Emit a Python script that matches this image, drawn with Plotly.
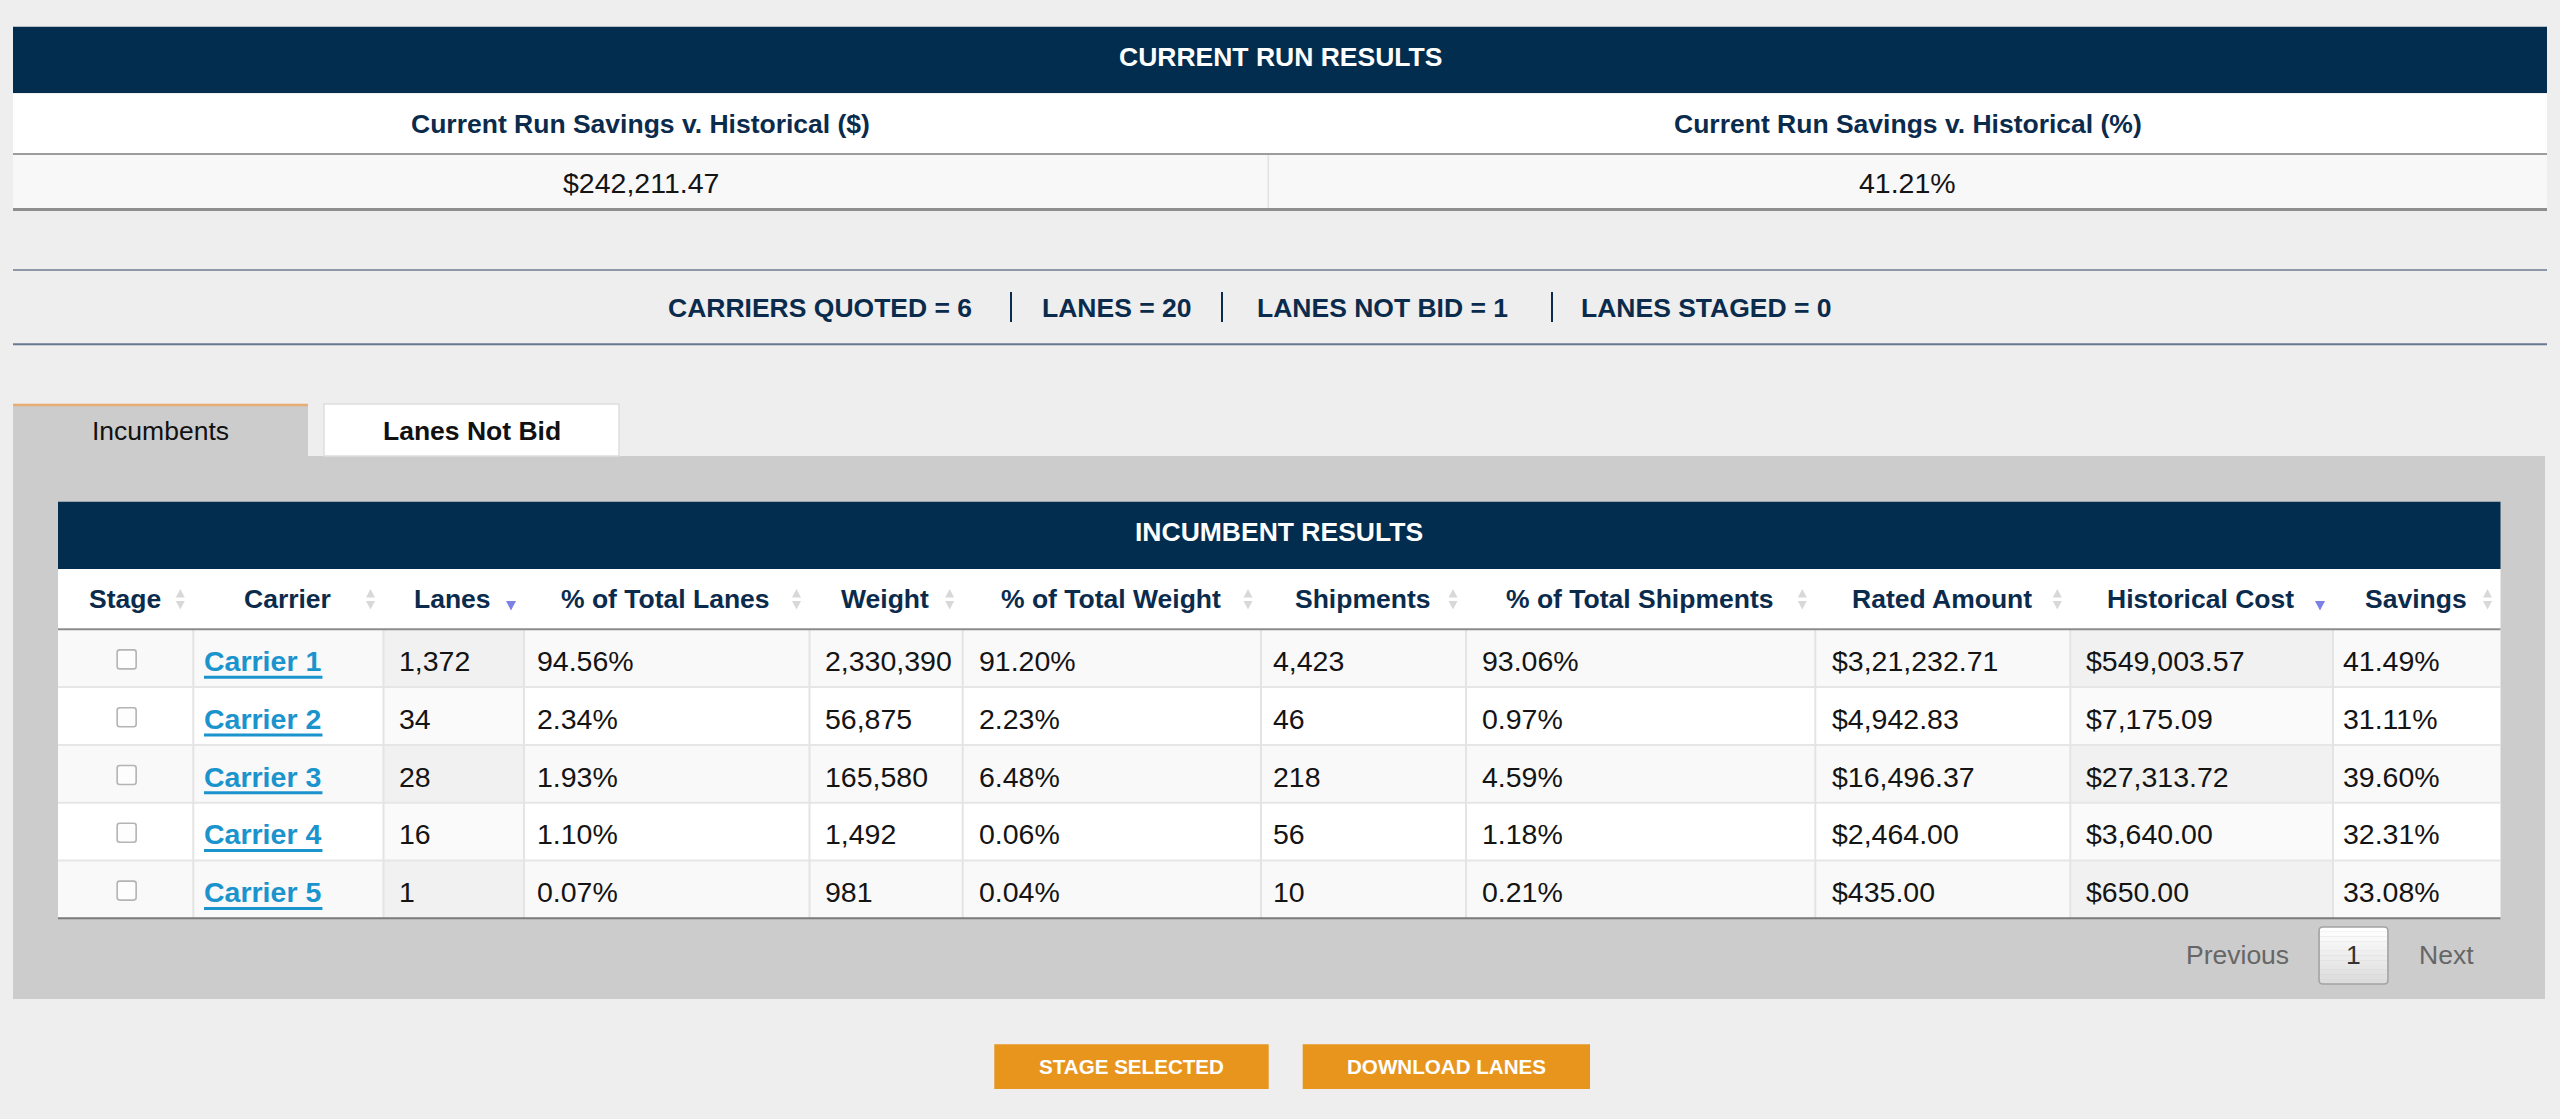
import plotly.graph_objects as go

W, H = 2560, 1119

# ------------------------------------------------------------------ data
run_title = "CURRENT RUN RESULTS"
summary_headers = ["Current Run Savings v. Historical ($)", "Current Run Savings v. Historical (%)"]
summary_values = ["$242,211.47", "41.21%"]

stat_labels = ["CARRIERS QUOTED", "LANES", "LANES NOT BID", "LANES STAGED"]
stat_values = [6, 20, 1, 0]

tab_labels = ["Incumbents", "Lanes Not Bid"]
table_title = "INCUMBENT RESULTS"

columns = ["Stage", "Carrier", "Lanes", "% of Total Lanes", "Weight", "% of Total Weight",
           "Shipments", "% of Total Shipments", "Rated Amount", "Historical Cost", "Savings"]
sort_state = ["both", "both", "desc", "both", "both", "both", "both", "both", "both", "desc", "both"]

carriers = ["Carrier 1", "Carrier 2", "Carrier 3", "Carrier 4", "Carrier 5"]
lanes = ["1,372", "34", "28", "16", "1"]
pct_lanes = ["94.56%", "2.34%", "1.93%", "1.10%", "0.07%"]
weight = ["2,330,390", "56,875", "165,580", "1,492", "981"]
pct_weight = ["91.20%", "2.23%", "6.48%", "0.06%", "0.04%"]
shipments = ["4,423", "46", "218", "56", "10"]
pct_shipments = ["93.06%", "0.97%", "4.59%", "1.18%", "0.21%"]
rated_amount = ["$3,21,232.71", "$4,942.83", "$16,496.37", "$2,464.00", "$435.00"]
historical_cost = ["$549,003.57", "$7,175.09", "$27,313.72", "$3,640.00", "$650.00"]
savings = ["41.49%", "31.11%", "39.60%", "32.31%", "33.08%"]

page_labels = ["Previous", "1", "Next"]
buttons = ["STAGE SELECTED", "DOWNLOAD LANES"]

# ------------------------------------------------------------------ style
FONT = "Liberation Sans, Arial, Helvetica, sans-serif"
BG = "#eeeeee"
NAVY = "#022d4f"
HEAD_TXT = "#0b2b4d"
CELL_TXT = "#141414"
LINK = "#1b93cc"
PANEL = "#cccccc"
ORANGE = "#e8951e"
HB = 26.5     # bold heading size
CS = 28.5     # cell text size

shapes = []
annos = []


def rect(x0, y0, x1, y1, fill, line=None, lw=0):
    shapes.append(dict(type="rect", xref="x", yref="y", x0=x0, y0=y0, x1=x1, y1=y1,
                       fillcolor=fill, line=dict(color=line or fill, width=lw), layer="below"))


def hline(x0, x1, y, color, lw):
    shapes.append(dict(type="line", xref="x", yref="y", x0=x0, x1=x1, y0=y, y1=y,
                       line=dict(color=color, width=lw), layer="below"))


def vline(x, y0, y1, color, lw):
    shapes.append(dict(type="line", xref="x", yref="y", x0=x, x1=x, y0=y0, y1=y1,
                       line=dict(color=color, width=lw), layer="below"))


def path(d, fill, line=None, lw=0):
    shapes.append(dict(type="path", xref="x", yref="y", path=d, fillcolor=fill,
                       line=dict(color=line or fill, width=lw), layer="above"))


def rounded(x0, y0, x1, y1, r):
    return (f"M{x0+r},{y0} L{x1-r},{y0} Q{x1},{y0} {x1},{y0+r} L{x1},{y1-r} Q{x1},{y1} {x1-r},{y1} "
            f"L{x0+r},{y1} Q{x0},{y1} {x0},{y1-r} L{x0},{y0+r} Q{x0},{y0} {x0+r},{y0} Z")


def txt(x, y, s, size, color, bold=False, anchor="left"):
    annos.append(dict(x=x, y=y, xref="x", yref="y", text=f"<b>{s}</b>" if bold else s,
                      showarrow=False, xanchor=anchor, yanchor="middle", borderpad=0,
                      font=dict(family=FONT, size=size, color=color)))


# Arial Bold advance widths (per 1000 em) for underline length
BOLD_W = {"C": 722, "a": 556, "r": 389, "i": 278, "e": 556, " ": 278}


def bold_width(s, size):
    return sum(BOLD_W.get(ch, 556) for ch in s) * size / 1000.0


# ------------------------------------------------------------------ top results block
L, R = 13, 2547
rect(L, 26.7, R, 93.3, NAVY)
txt((L + R) / 2, 56.7, run_title, HB, "#ffffff", bold=True, anchor="center")
rect(L, 93.3, R, 154, "#ffffff")
rect(L, 154, R, 209.5, "#f8f8f8")
mid = 1268.3
vline(mid, 155, 208.5, "#e2e2e2", 1.5)
hline(L, R, 154, "#9c9c9c", 2)
hline(L, R, 209.5, "#8e8e8e", 3)
centers = [(L + mid) / 2, (mid + R) / 2]
for cx, h, v in zip(centers, summary_headers, summary_values):
    txt(cx, 124, h, HB, HEAD_TXT, bold=True, anchor="center")
    txt(cx, 182.5, v, CS, CELL_TXT, anchor="center")

# ------------------------------------------------------------------ stats line
hline(L, R, 270, "#8e97a7", 2)
hline(L, R, 344.3, "#687890", 2)
stat_x = [666.5, 1040.5, 1255.5, 1579.5]
sep_x = [1011, 1222, 1552]
for x, lab, val in zip(stat_x, stat_labels, stat_values):
    txt(x, 307.5, f"{lab} = {val}", HB, HEAD_TXT, bold=True)
for x in sep_x:
    vline(x, 292, 322, HEAD_TXT, 2)

# ------------------------------------------------------------------ tabs and panel
rect(13, 456, 2545, 999, PANEL)
rect(13, 404, 308, 456, PANEL)
hline(13, 308, 405, "#e7ad72", 2.5)
rect(324, 404, 619, 456, "#ffffff", "#dedede", 1.5)
txt((13 + 308) / 2, 431, tab_labels[0], 26.5, "#111111", anchor="center")
txt((324 + 619) / 2, 431, tab_labels[1], HB, "#111111", bold=True, anchor="center")

# ------------------------------------------------------------------ incumbent table
edges = [58, 193.3, 383.5, 524, 809.5, 962.7, 1261, 1466, 1815.3, 2070.3, 2333, 2500.5]
text_x = [None, 202.5, 397.5, 535.5, 823.5, 978, 1271.5, 1480.5, 1830.5, 2084.5, 2341.5]
TL, TR = edges[0], edges[-1]
rect(TL, 501.7, TR, 569, NAVY)
txt((TL + TR) / 2, 531.7, table_title, HB, "#ffffff", bold=True, anchor="center")
rect(TL, 569, TR, 629.3, "#ffffff")

# header row with sort icons
HY = 599
for i, name in enumerate(columns):
    x0, x1 = edges[i], edges[i + 1]
    txt((x0 + x1) / 2 - 1, HY, name, HB, HEAD_TXT, bold=True, anchor="center")
    ix = x1 - 13
    if sort_state[i] == "desc":
        path(f"M{ix-5},{601} L{ix+5},{601} L{ix},{610.5} Z", "#7d80e4")
    else:
        path(f"M{ix-4.5},{597.5} L{ix+4.5},{597.5} L{ix},{589} Z", "#d8d8d8")
        path(f"M{ix-4.5},{601} L{ix+4.5},{601} L{ix},{609.5} Z", "#d8d8d8")

rows_y0 = 629.3
row_h = 57.8
sorted_cols = [i for i, s in enumerate(sort_state) if s == "desc"]
body = [lanes, pct_lanes, weight, pct_weight, shipments, pct_shipments,
        rated_amount, historical_cost, savings]
n = len(carriers)
for r in range(n):
    y0 = rows_y0 + r * row_h
    y1 = y0 + row_h
    odd = (r % 2 == 0)
    rect(TL, y0, TR, y1, "#f9f9f9" if odd else "#ffffff")
    for c in sorted_cols:
        rect(edges[c], y0, edges[c + 1], y1, "#f1f1f1" if odd else "#fafafa")
    if r > 0:
        hline(TL, TR, y0, "#e6e6e6", 2)
    cy = (y0 + y1) / 2
    # checkbox
    cbx = (edges[0] + edges[1]) / 2 + 1
    path(rounded(cbx - 9.5, cy - 8.3, cbx + 9.5, cy + 10.7, 2.5), "#fdfdfd", "#b4b4b4", 1.6)
    # carrier link
    txt(text_x[1], cy + 2.7, carriers[r], CS, LINK, bold=True)
    wlen = bold_width(carriers[r], 28.8)
    shapes.append(dict(type="line", xref="x", yref="y", x0=text_x[1] + 1.5,
                       x1=text_x[1] + 1.5 + wlen, y0=cy + 19, y1=cy + 19,
                       line=dict(color=LINK, width=3), layer="above"))
    for j, col in enumerate(body):
        txt(text_x[j + 2], cy + 2.7, col[r], CS, CELL_TXT)

for x in edges[1:-1]:
    vline(x, rows_y0, rows_y0 + n * row_h, "#e4e4e4", 2)
hline(TL, TR, rows_y0, "#8c8c8c", 2)
hline(TL, TR, rows_y0 + n * row_h, "#7a7a7a", 2)

# ------------------------------------------------------------------ pagination
txt(2237, 955, page_labels[0], 26.5, "#666666", anchor="center")
bx0, bx1, by0, by1 = 2319, 2388, 927, 984
steps = 12
for k in range(steps):
    t = k / (steps - 1)
    g = int(round(255 - t * (255 - 220)))
    rect(bx0 + 1, by0 + (by1 - by0) * k / steps, bx1 - 1, by0 + (by1 - by0) * (k + 1) / steps,
         f"rgb({g},{g},{g})")
path(rounded(bx0, by0, bx1, by1, 4), "rgba(0,0,0,0)", "#a3a3a3", 1.5)
txt((bx0 + bx1) / 2, 955, page_labels[1], 26.5, "#333333", anchor="center")
txt(2446, 955, page_labels[2], 26.5, "#666666", anchor="center")

# ------------------------------------------------------------------ buttons
btn_x = [(994.3, 1268.7), (1302.7, 1590)]
for (x0, x1), label in zip(btn_x, buttons):
    rect(x0, 1044.3, x1, 1089, ORANGE)
    txt((x0 + x1) / 2, 1066.3, label, 20.6, "#ffffff", bold=True, anchor="center")

# ------------------------------------------------------------------ figure
fig = go.Figure()
fig.update_layout(
    width=W, height=H,
    margin=dict(l=0, r=0, t=0, b=0, pad=0),
    paper_bgcolor=BG, plot_bgcolor=BG,
    xaxis=dict(range=[0, W], visible=False, fixedrange=True),
    yaxis=dict(range=[H, 0], visible=False, fixedrange=True),
    shapes=shapes, annotations=annos, showlegend=False,
)
fig.write_html("out.html", config={"displayModeBar": False, "staticPlot": True},
               post_script="document.body.style.margin='0';document.body.style.overflow='hidden';")
